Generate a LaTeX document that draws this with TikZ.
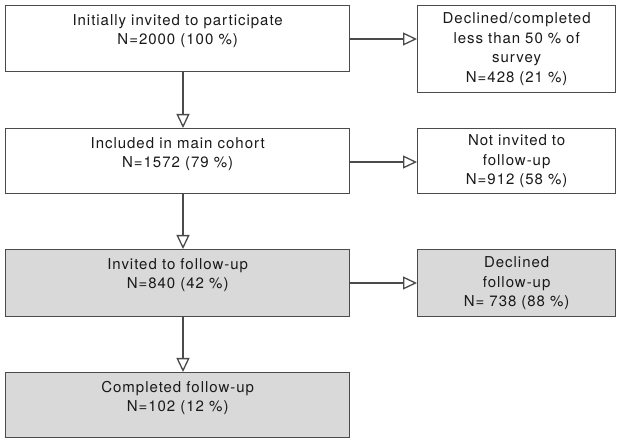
\documentclass[tikz,border=0pt]{standalone}
\usepackage{fontspec}
\setmainfont{TeX Gyre Heros}[LetterSpace=6.5]
\usetikzlibrary{arrows.meta}
\definecolor{linec}{RGB}{75,75,75}
\definecolor{boxfill}{RGB}{217,217,217}
\definecolor{txt}{RGB}{25,25,25}
\tikzset{
  lbox/.style={draw=linec, line width=1.3pt, rectangle, inner sep=0pt, anchor=north west, text=txt},
  rbox/.style={draw=linec, line width=1.3pt, rectangle, inner sep=0pt, anchor=north west, text=txt,
               minimum width=198pt, text width=196pt, align=center},
  grey/.style={fill=boxfill},
  conn/.style={draw=linec, line width=1.3pt, -{Triangle[open, length=14pt, width=13pt, fill=white]}},
}
\newcommand{\ltext}[2]{\parbox[t][#1][t]{344pt}{\centering\rule{0pt}{19.5pt}#2}}
\begin{document}
\begin{tikzpicture}[x=1pt, y=-1pt, font=\fontsize{15}{19.5}\selectfont]
\useasboundingbox (0,0) rectangle (621,443);
\coordinate (vx) at (183,0);

\node[lbox] (b1) at (5,5) {\ltext{66pt}{Initially invited to participate\\N=2000 (100 \%)}};
\node[lbox] (b2) at (5,128) {\ltext{65pt}{Included in main cohort\\N=1572 (79 \%)}};
\node[lbox, grey] (b3) at (5,249) {\ltext{67pt}{Invited to follow-up\\N=840 (42 \%)}};
\node[lbox, grey] (b4) at (5,372) {\ltext{65pt}{Completed follow-up\\N=102 (12 \%)}};

\node[rbox, minimum height=87pt] (r1) at (417,5) {Declined/completed\\less than 50 \% of\\survey\\N=428 (21 \%)};
\node[rbox, minimum height=65pt] (r2) at (417,128) {Not invited to\\follow-up\\N=912 (58 \%)};
\node[rbox, grey, minimum height=67pt] (r3) at (417,249) {Declined\\follow-up\\N= 738 (88 \%)};

\path (b1.north east) ++(0,34) coordinate (h1);
\path (b2.north east) ++(0,34) coordinate (h2);
\path (b3.north east) ++(0,34) coordinate (h3);
\draw[conn] (h1) -- (h1 -| r1.west);
\draw[conn] (h2) -- (h2 -| r2.west);
\draw[conn] (h3) -- (h3 -| r3.west);

\draw[conn] (b1.south -| vx) -- (b2.north -| vx);
\draw[conn] (b2.south -| vx) -- (b3.north -| vx);
\draw[conn] (b3.south -| vx) -- (b4.north -| vx);
\end{tikzpicture}
\end{document}
